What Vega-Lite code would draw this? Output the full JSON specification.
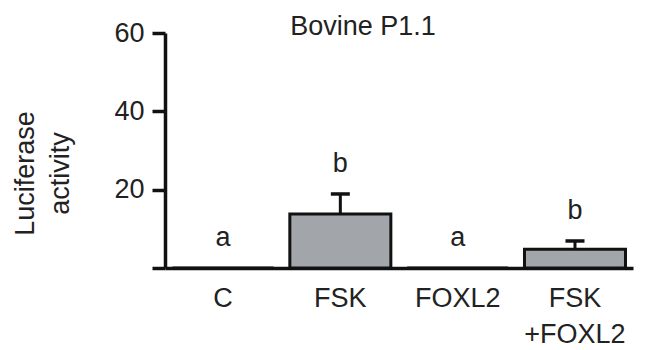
{
  "$schema": "https://vega.github.io/schema/vega-lite/v6.json",
  "autosize": "none",
  "width": 468,
  "height": 235,
  "padding": {"left": 165, "top": 33, "right": 12, "bottom": 82},
  "background": "white",
  "config": {
    "view": {"stroke": null},
    "font": "Liberation Sans",
    "text": {"font": "Liberation Sans"}
  },
  "title": {
    "text": "Bovine P1.1",
    "fontSize": 27,
    "fontWeight": "normal",
    "color": "#222",
    "anchor": "middle",
    "baseline": "alphabetic",
    "dx": -36,
    "dy": 43,
    "offset": 0
  },
  "data": {
    "values": [
      {"group": "C", "label": "C", "mean": 0, "upper": 0, "letter": "a"},
      {"group": "FSK", "label": "FSK", "mean": 13.8, "upper": 18.9, "letter": "b"},
      {"group": "FOXL2", "label": "FOXL2", "mean": 0, "upper": 0, "letter": "a"},
      {"group": "FSK+FOXL2", "label": "FSK|+FOXL2", "mean": 4.8, "upper": 6.9, "letter": "b"}
    ]
  },
  "encoding": {
    "x": {
      "field": "group",
      "type": "nominal",
      "sort": null,
      "scale": {"paddingInner": 0.139, "paddingOuter": 0.064},
      "axis": {
        "title": null,
        "labelAngle": 0,
        "labelExpr": "split(datum.label == 'FSK+FOXL2' ? 'FSK|+FOXL2' : datum.label, '|')",
        "labelFontSize": 27,
        "labelColor": "#222",
        "labelPadding": 17,
        "labelLineHeight": 36,
        "labelBaseline": "top",
        "ticks": false,
        "domainColor": "#111",
        "domainWidth": 3.5
      }
    }
  },
  "layer": [
    {
      "mark": {"type": "bar", "fill": "#a2a5a9", "stroke": "#111", "strokeWidth": 3},
      "encoding": {
        "y": {
          "field": "mean",
          "type": "quantitative",
          "scale": {"domain": [0, 60]},
          "axis": {
            "values": [0, 20, 40, 60],
            "labelExpr": "datum.value == 0 ? '' : datum.label",
            "grid": false,
            "title": ["Luciferase", "activity"],
            "titleFontSize": 27,
            "titleFontWeight": "normal",
            "titleColor": "#222",
            "titleLineHeight": 35,
            "titleX": -140,
            "titleY": 140,
            "titleAngle": -90,
            "titleAlign": "center",
            "titleBaseline": "middle",
            "labelFontSize": 27,
            "labelColor": "#222",
            "labelPadding": 8,
            "tickSize": 13,
            "tickWidth": 3.5,
            "tickColor": "#111",
            "domainColor": "#111",
            "domainWidth": 3.5
          }
        }
      }
    },
    {
      "transform": [{"filter": "datum.upper > datum.mean"}],
      "mark": {"type": "rule", "stroke": "#111", "strokeWidth": 3},
      "encoding": {
        "y": {"field": "mean", "type": "quantitative"},
        "y2": {"field": "upper"}
      }
    },
    {
      "transform": [{"filter": "datum.upper > datum.mean"}],
      "mark": {"type": "tick", "color": "#111", "thickness": 3.5, "size": 19, "orient": "horizontal", "opacity": 1},
      "encoding": {
        "y": {"field": "upper", "type": "quantitative"}
      }
    },
    {
      "mark": {"type": "text", "fontSize": 27, "color": "#222", "baseline": "middle", "dy": -30},
      "encoding": {
        "y": {"field": "upper", "type": "quantitative"},
        "text": {"field": "letter"}
      }
    }
  ]
}
